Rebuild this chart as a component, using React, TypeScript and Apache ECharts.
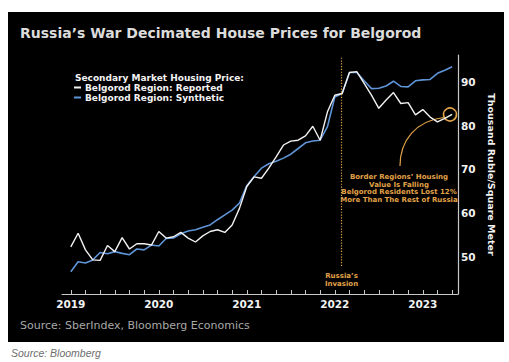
import React, { useEffect, useRef } from 'react';
import * as echarts from 'echarts';

// Monthly observations, Jan 2019 .. May 2023 (index 0 = Jan 2019)
const reported = [
  52.3, 55.4, 51.6, 49.3, 49.2, 52.6, 51.2, 54.4, 51.8, 53.0, 53.0, 52.7,
  55.8, 54.3, 54.6, 55.6, 54.3, 53.4, 54.8, 55.8, 56.2, 55.6, 57.3, 61.1,
  66.1, 68.3, 68.0, 70.3, 72.9, 75.6, 76.5, 76.7, 77.7, 79.9, 76.7, 83.2,
  87.0, 87.4, 92.2, 92.4, 89.7, 87.0, 84.0, 85.9, 87.6, 85.1, 85.3, 82.5,
  83.7, 82.0, 80.9, 81.7, 82.6,
];
const synthetic = [
  46.6, 48.9, 48.6, 49.3, 51.0, 50.7, 51.2, 50.8, 50.5, 51.8, 51.6, 52.7,
  52.5, 54.2, 54.3, 55.3, 55.9, 56.2, 56.8, 57.3, 58.5, 59.6, 60.7, 62.3,
  66.3, 68.4, 70.3, 71.3, 71.9, 72.6, 73.5, 74.8, 76.1, 76.5, 76.7, 79.8,
  86.6, 87.4, 92.2, 92.2, 90.3, 88.5, 88.6, 89.1, 90.2, 89.0, 88.9, 90.3,
  90.5, 90.6, 92.0, 92.7, 93.5,
];
const startYear = 2019;
const yearLabels = ['2019', '2020', '2021', '2022', '2023'];
const yTicks = [50, 60, 70, 80, 90];
const invasionMonth = 36.9;

const ORANGE = '#e2a248';
const BLUE = '#5f94d6';
const WHITE = '#f2f2f2';
const AXIS = '#c8c8c8';
const FONT = '"DejaVu Sans", Verdana, sans-serif';

export default function App() {
  const ref = useRef<HTMLDivElement>(null);
  useEffect(() => {
    const chart = echarts.init(ref.current as HTMLDivElement, null, { renderer: 'svg' });
    const pairs = (arr: number[]) => arr.map((v, i) => [i, v]);
    const monthTicks: number[] = [];
    for (let m = 0; m <= 52; m += 2) monthTicks.push(m);
    const yearTickValues = yearLabels.map((y) => (Number(y) - startYear) * 12);

    chart.setOption({
      animation: false,
      backgroundColor: '#ffffff',
      grid: { left: 62, right: 51, top: 55, bottom: 68 },
      legend: {
        orient: 'vertical',
        left: 74,
        top: 83,
        itemWidth: 7,
        itemHeight: 2,
        itemGap: 1,
        icon: 'rect',
        padding: 0,
        textStyle: { color: WHITE, fontFamily: FONT, fontWeight: 'bold', fontSize: 9, padding: [0, 0, 0, -1] },
        data: ['Belgorod Region: Reported', 'Belgorod Region: Synthetic'],
      },
      xAxis: {
        type: 'value',
        min: -1.2,
        max: 52.8,
        splitLine: { show: false },
        axisLine: { onZero: false, lineStyle: { color: AXIS, width: 1 } },
        axisTick: { inside: true, length: 4, customValues: monthTicks, lineStyle: { color: AXIS } },
        axisLabel: {
          customValues: yearTickValues,
          formatter: (v: number) => String(startYear + Math.round(v / 12)),
          color: WHITE,
          fontFamily: FONT,
          fontWeight: 'bold',
          fontSize: 10.5,
          margin: 4,
        },
      },
      yAxis: {
        type: 'value',
        position: 'right',
        min: 41.5,
        max: 96.2,
        splitLine: { show: false },
        axisLine: { show: true, onZero: false, lineStyle: { color: AXIS, width: 1.2 } },
        axisTick: { show: false },
        axisLabel: {
          customValues: yTicks,
          color: WHITE,
          fontFamily: FONT,
          fontWeight: 'bold',
          fontSize: 10.5,
          margin: 3,
        },
        name: 'Thousand Ruble/Square Meter',
        nameLocation: 'middle',
        nameRotate: -90,
        nameGap: 19,
        nameTextStyle: { color: WHITE, fontFamily: FONT, fontWeight: 'bold', fontSize: 9.5 },
      },
      series: [
        {
          name: 'Belgorod Region: Synthetic',
          type: 'line',
          data: pairs(synthetic),
          symbol: 'none',
          color: BLUE,
          lineStyle: { color: BLUE, width: 1.6 },
          z: 3,
        },
        {
          name: 'Belgorod Region: Reported',
          type: 'line',
          data: pairs(reported),
          symbol: 'none',
          color: WHITE,
          lineStyle: { color: WHITE, width: 1.4 },
          z: 4,
          markLine: {
            silent: true,
            symbol: 'none',
            label: { show: false },
            lineStyle: { color: ORANGE, type: [1.2, 1.6], width: 1.2, opacity: 1 },
            emphasis: { disabled: true },
            data: [[{ coord: [invasionMonth, 47.9] }, { coord: [invasionMonth, 95.7] }]],
          },
        },
      ],
      graphic: [
        { type: 'rect', z: -100, silent: true, shape: { x: 8, y: 12, width: 496, height: 330 }, style: { fill: '#000000' } },
        {
          type: 'text', x: 20, y: 33,
          style: { text: 'Russia\u2019s War Decimated House Prices for Belgorod', fill: '#dcdcdc', font: `bold 14px ${FONT}`, textVerticalAlign: 'middle' },
        },
        {
          type: 'text', x: 75, y: 77.5,
          style: { text: 'Secondary Market Housing Price:', fill: WHITE, font: `bold 9px ${FONT}`, textVerticalAlign: 'middle' },
        },
        {
          type: 'text', x: 341.5, y: 280,
          style: { text: 'Russia\u2019s\nInvasion', fill: ORANGE, font: `bold 7px ${FONT}`, align: 'center', verticalAlign: 'middle', lineHeight: 8 },
        },
        {
          type: 'text', x: 399, y: 188.5,
          style: {
            text: 'Border Regions\u2019 Housing\nValue Is Falling\nBelgorod Residents Lost 12%\nMore Than The Rest of Russia',
            fill: ORANGE, font: `bold 7px ${FONT}`, align: 'center', verticalAlign: 'middle', lineHeight: 7.8,
          },
        },
        { type: 'circle', shape: { cx: 450, cy: 114.5, r: 6.5 }, style: { fill: 'none', stroke: ORANGE, lineWidth: 1.6 } },
        {
          type: 'bezierCurve',
          shape: { x1: 443.5, y1: 117.5, cpx1: 416, cpy1: 121, cpx2: 400, cpy2: 140, x2: 400, y2: 166 },
          style: { fill: 'none', stroke: ORANGE, lineWidth: 1.2 },
        },
        {
          type: 'text', x: 20, y: 325,
          style: { text: 'Source: SberIndex, Bloomberg Economics', fill: '#a8a8a8', font: `11px ${FONT}`, textVerticalAlign: 'middle' },
        },
        {
          type: 'text', x: 11, y: 353,
          style: { text: 'Source: Bloomberg', fill: '#6e6e6e', font: `italic 10.5px "Liberation Sans", Arial, sans-serif`, textVerticalAlign: 'middle' },
        },
      ],
    });
    return () => chart.dispose();
  }, []);
  return (
    <div
      ref={ref}
      style={{ position: 'absolute', left: 0, top: 0, width: 509, height: 362, background: '#ffffff' }}
    />
  );
}
